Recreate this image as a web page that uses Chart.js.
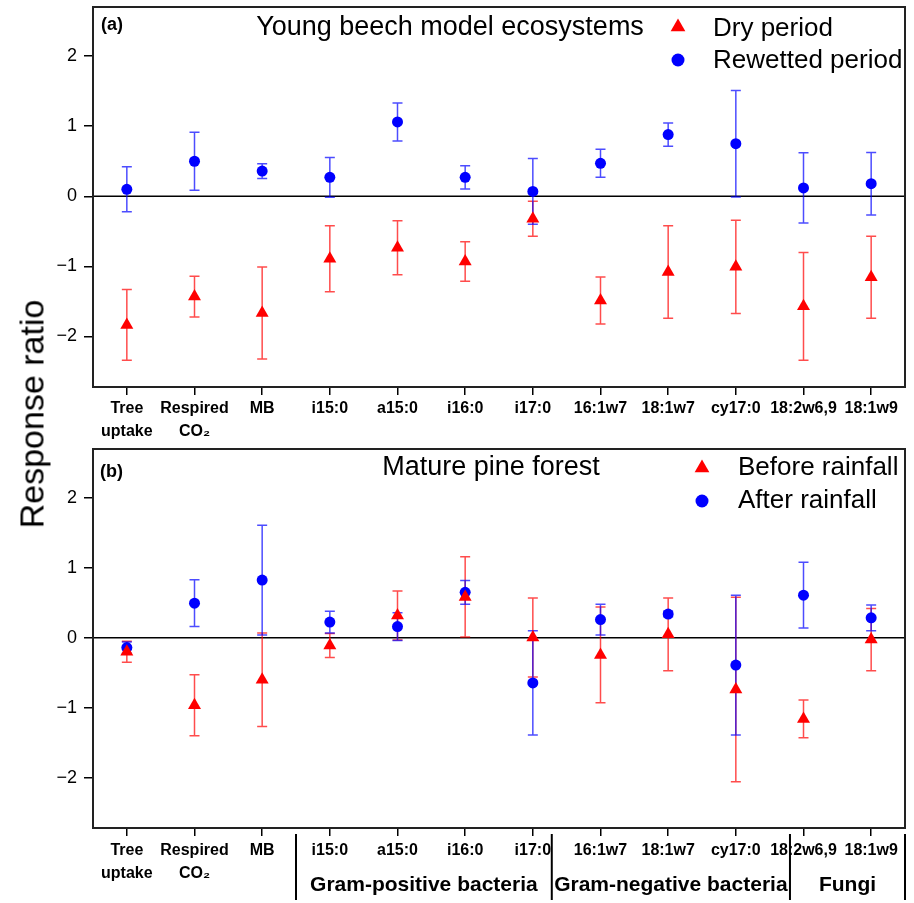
<!DOCTYPE html>
<html><head><meta charset="utf-8">
<script src="https://cdn.jsdelivr.net/npm/chart.js@4.4.1/dist/chart.umd.min.js"></script>
<style>
html,body{margin:0;padding:0;background:#fff;width:914px;height:903px;overflow:hidden;}
#wrap{position:relative;width:914px;height:903px;}
#ca{position:absolute;left:0;top:0;}
#cb{position:absolute;left:0;top:440px;}
#ytitle{position:absolute;left:32px;top:414px;transform:translate(-50%,-50%) rotate(-90deg);font:34px 'Liberation Sans',Arial,sans-serif;white-space:nowrap;color:#000;}
</style></head><body>
<div id="wrap">
<canvas id="ca" width="914" height="445"></canvas>
<canvas id="cb" width="914" height="463"></canvas>
<div id="ytitle">Response ratio</div>
</div>
<script>
// ---- data ----
const categories = [['Tree','uptake'],['Respired','CO\u2082'],'MB','i15:0','a15:0','i16:0','i17:0','16:1w7','18:1w7','cy17:0','18:2w6,9','18:1w9'];
const yTicks = [-2,-1,0,1,2];

// Panel (a) Young beech model ecosystems
const dryA      = [-1.835,-1.43,-1.665,-0.89,-0.735,-0.93,-0.32,-1.485,-1.08,-1.005,-1.57,-1.155];
const dryAErr   = [0.505,0.29,0.655,0.47,0.385,0.28,0.25,0.335,0.66,0.665,0.77,0.585];
const rewetA    = [0.10,0.50,0.36,0.27,1.06,0.27,0.07,0.47,0.88,0.75,0.12,0.18];
const rewetAErr = [0.32,0.415,0.105,0.285,0.27,0.165,0.47,0.20,0.165,0.76,0.50,0.445];

// Panel (b) Mature pine forest
const beforeB    = [-0.20,-0.965,-0.60,-0.11,0.32,0.585,0.005,-0.245,0.05,-0.74,-1.16,-0.025];
const beforeBErr = [0.15,0.435,0.67,0.17,0.35,0.575,0.565,0.685,0.52,1.32,0.27,0.445];
const afterB     = [-0.14,0.495,0.825,0.225,0.16,0.65,-0.645,0.26,0.34,-0.39,0.61,0.285];
const afterBErr  = [0.08,0.335,0.785,0.155,0.20,0.17,0.745,0.22,0.04,1.0,0.47,0.185];

const groupNames = ['Gram-positive bacteria','Gram-negative bacteria','Fungi'];
const groupBounds = [2.5,6.28,9.8,11.5];

const FONT = "'Liberation Sans', Arial, sans-serif";

function drawMarker(ctx, style, x, y, r, color){
  ctx.fillStyle = color;
  ctx.beginPath();
  if (style === 'triangle'){
    ctx.moveTo(x, y - r);
    ctx.lineTo(x + r*Math.sqrt(3)/2, y + r/2);
    ctx.lineTo(x - r*Math.sqrt(3)/2, y + r/2);
    ctx.closePath();
  } else {
    ctx.arc(x, y, r, 0, Math.PI*2);
  }
  ctx.fill();
}

const deco = {
  id: 'deco',
  beforeDatasetsDraw(chart, args, opts){
    const {ctx, chartArea:a, scales:{x, y}} = chart;
    ctx.save();
    const y0 = y.getPixelForValue(0);
    ctx.strokeStyle = '#000'; ctx.lineWidth = 1.6;
    ctx.beginPath(); ctx.moveTo(a.left, y0); ctx.lineTo(a.right, y0); ctx.stroke();
    chart.data.datasets.forEach(ds => {
      ctx.strokeStyle = ds.errColor; ctx.lineWidth = 1.5;
      ds.data.forEach((v, i) => {
        const e = ds.err[i];
        const px = x.getPixelForValue(i);
        const yt = y.getPixelForValue(v + e), yb = y.getPixelForValue(v - e);
        ctx.beginPath();
        ctx.moveTo(px, yt); ctx.lineTo(px, yb);
        ctx.moveTo(px - 5, yt); ctx.lineTo(px + 5, yt);
        ctx.moveTo(px - 5, yb); ctx.lineTo(px + 5, yb);
        ctx.stroke();
      });
    });
    ctx.restore();
  },
  afterDraw(chart, args, opts){
    const {ctx, chartArea:a, scales:{x}} = chart;
    ctx.save();
    ctx.strokeStyle = '#222'; ctx.lineWidth = 2;
    ctx.strokeRect(a.left, a.top, a.right - a.left, a.bottom - a.top);
    ctx.fillStyle = '#000';
    ctx.textBaseline = 'middle';
    ctx.textAlign = 'left';
    ctx.font = 'bold 18px ' + FONT;
    ctx.fillText(opts.tag, opts.tagPos[0], opts.tagPos[1]);
    ctx.font = '27px ' + FONT;
    ctx.textAlign = 'center';
    ctx.fillText(opts.title, opts.titlePos[0], opts.titlePos[1]);
    ctx.font = '26px ' + FONT;
    ctx.textAlign = 'left';
    chart.data.datasets.forEach((ds, i) => {
      const L = opts.legend[i];
      drawMarker(ctx, ds.pointStyle, L[0], L[1], ds.pointStyle === 'triangle' ? 8.5 : 6.5, ds.backgroundColor);
      ctx.fillStyle = '#000';
      ctx.fillText(ds.label, L[2], L[3]);
    });
    if (opts.groups){
      ctx.strokeStyle = '#000'; ctx.lineWidth = 2;
      const px = opts.groups.bounds.map(b => x.getPixelForValue(b));
      const last = px.length - 1;
      px[last] = a.right;
      px.forEach(p => {
        ctx.beginPath();
        ctx.moveTo(p, a.bottom + 6);
        ctx.lineTo(p, opts.groups.lineEnd);
        ctx.stroke();
      });
      ctx.font = 'bold 21px ' + FONT;
      ctx.textAlign = 'center';
      ctx.fillStyle = '#000';
      opts.groups.names.forEach((n, i) => {
        ctx.fillText(n, (px[i] + px[i + 1]) / 2, opts.groups.textY);
      });
    }
    ctx.restore();
  }
};
Chart.register(deco);

function mk(id, sets, padTop, xHeight, tickPad, opts){
  return new Chart(document.getElementById(id), {
    type: 'line',
    data: {
      labels: categories,
      datasets: sets.map(s => ({
        label: s.label, data: s.data, err: s.err, errColor: s.errColor,
        showLine: false, pointStyle: s.style, pointRadius: s.r, pointHoverRadius: s.r,
        backgroundColor: s.color, borderColor: s.color, borderWidth: 0
      }))
    },
    options: {
      responsive: false, animation: false, events: [],
      layout: { padding: { top: padTop, right: 9, left: 0, bottom: 0 }, autoPadding: false },
      plugins: { legend: { display: false }, tooltip: { enabled: false }, deco: opts },
      scales: {
        x: {
          offset: true,
          grid: { offset: false, drawOnChartArea: false, drawTicks: true, tickLength: 8, color: '#000', lineWidth: 1.5 },
          border: { display: false },
          ticks: { autoSkip: false, maxRotation: 0, minRotation: 0, padding: tickPad, color: '#000',
                   font: { family: FONT, size: 16, weight: 'bold', lineHeight: 1.44 } },
          afterFit: s => { s.height = xHeight; s.paddingLeft = 0; s.paddingRight = 0; }
        },
        y: {
          min: -2.72, max: 2.7,
          afterBuildTicks: s => { s.ticks = yTicks.map(v => ({ value: v })); },
          grid: { drawOnChartArea: false, drawTicks: true, tickLength: 9, color: '#000', lineWidth: 1.5 },
          border: { display: false },
          ticks: { padding: 7, color: '#000', font: { family: FONT, size: 18 },
                   callback: v => v < 0 ? '\u2212' + Math.abs(v) : String(v) },
          afterFit: s => { s.width = 93; s.paddingTop = 0; s.paddingBottom = 0; }
        }
      }
    }
  });
}

mk('ca', [
  { label: 'Dry period', data: dryA, err: dryAErr, style: 'triangle', r: 7.5, color: '#ff0000', errColor: 'rgba(255,0,0,0.7)' },
  { label: 'Rewetted period', data: rewetA, err: rewetAErr, style: 'circle', r: 5.5, color: '#0000ff', errColor: 'rgba(0,0,255,0.7)' }
], 7, 58, 2, {
  tag: '(a)', tagPos: [101, 25], title: 'Young beech model ecosystems', titlePos: [450, 28],
  legend: [[678, 27, 713, 29], [678, 60, 713, 61]]
});

mk('cb', [
  { label: 'Before rainfall', data: beforeB, err: beforeBErr, style: 'triangle', r: 7.5, color: '#ff0000', errColor: 'rgba(255,0,0,0.7)' },
  { label: 'After rainfall', data: afterB, err: afterBErr, style: 'circle', r: 5.5, color: '#0000ff', errColor: 'rgba(0,0,255,0.7)' }
], 9, 75, 3, {
  tag: '(b)', tagPos: [100, 32], title: 'Mature pine forest', titlePos: [491, 28],
  legend: [[702, 28, 738, 28], [702, 61, 738, 61]],
  groups: { names: groupNames, bounds: groupBounds, lineEnd: 460, textY: 445 }
});
</script>
</body></html>
